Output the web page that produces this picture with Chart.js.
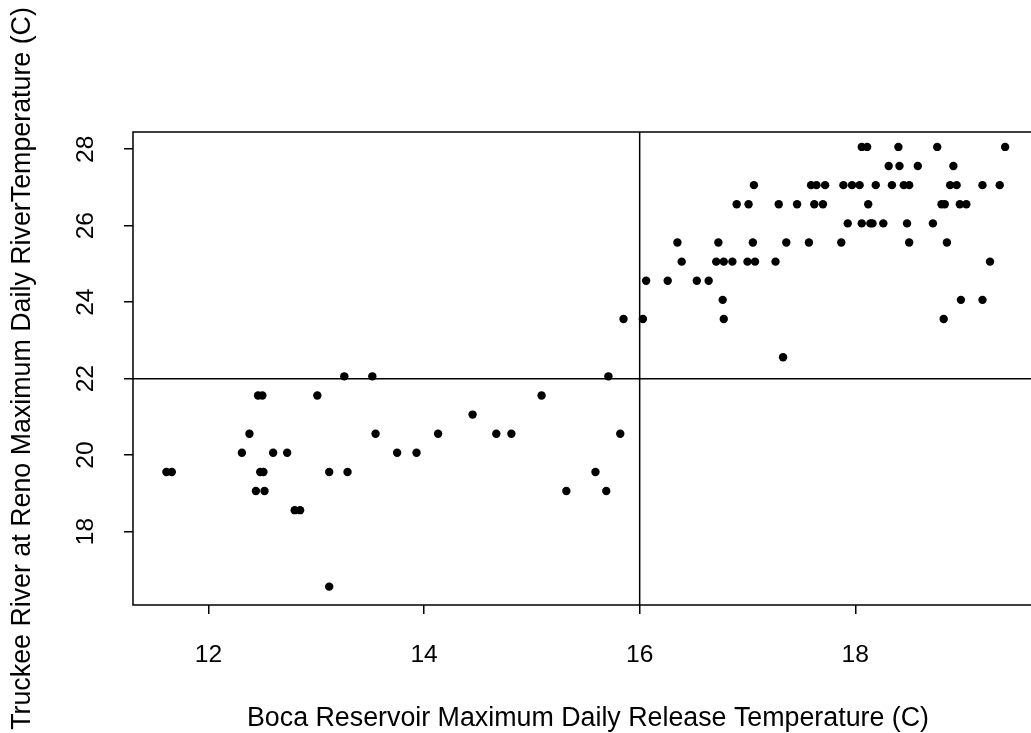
<!DOCTYPE html>
<html>
    <head>
        <meta charset="UTF-8"/>
        <title>Boca vs Reno temperature</title>
        <script src="https://cdn.jsdelivr.net/npm/chart.js@4.4.1/dist/chart.umd.min.js"></script>
        <style>
            body { margin: 0; background: #fff; }
        </style>
    </head>
    <body>
        <canvas id="chart" width="1031" height="733"></canvas>
        <script>
            // Boca release temp (x) and Reno river temp (y), paired by index
            const bocaTemp = [
                13.26, 13.52, 12.46, 12.50, 13.01, 12.38, 13.55, 12.31, 12.60, 12.73,
                11.61, 11.66, 12.48, 12.51, 13.12, 13.29, 12.44, 12.52, 12.80, 12.85,
                13.12,
                15.71, 15.09, 14.45, 14.13, 14.67, 14.81, 15.82, 13.75, 13.93, 15.59,
                15.32, 15.69,
                15.85, 16.03, 16.78, 18.82,
                16.77, 18.98, 19.18,
                17.33,
                16.06, 16.26, 16.53, 16.64,
                16.39, 16.71, 16.78, 16.86, 17.00, 17.07, 17.26, 19.25,
                16.35, 16.73, 17.05, 17.36, 17.57, 17.87, 18.50, 18.85,
                17.93, 18.06, 18.14, 18.16, 18.26, 18.48, 18.72,
                16.90, 17.01, 17.29, 17.46, 17.62, 17.70, 18.12, 18.80, 18.83, 18.97, 19.03,
                17.06, 17.59, 17.64, 17.72, 17.89, 17.97, 18.04, 18.19, 18.34, 18.45, 18.50, 18.88, 18.94, 19.18, 19.34,
                18.31, 18.41, 18.58, 18.91,
                18.06, 18.11, 18.40, 18.76, 19.39
            ];
            const renoTemp = [
                22.06, 22.06, 21.56, 21.56, 21.56, 20.56, 20.56, 20.06, 20.06, 20.06,
                19.56, 19.56, 19.56, 19.56, 19.56, 19.56, 19.06, 19.06, 18.56, 18.56,
                16.56,
                22.06, 21.56, 21.06, 20.56, 20.56, 20.56, 20.56, 20.06, 20.06, 19.56,
                19.06, 19.06,
                23.56, 23.56, 23.56, 23.56,
                24.06, 24.06, 24.06,
                22.56,
                24.56, 24.56, 24.56, 24.56,
                25.06, 25.06, 25.06, 25.06, 25.06, 25.06, 25.06, 25.06,
                25.56, 25.56, 25.56, 25.56, 25.56, 25.56, 25.56, 25.56,
                26.06, 26.06, 26.06, 26.06, 26.06, 26.06, 26.06,
                26.56, 26.56, 26.56, 26.56, 26.56, 26.56, 26.56, 26.56, 26.56, 26.56, 26.56,
                27.06, 27.06, 27.06, 27.06, 27.06, 27.06, 27.06, 27.06, 27.06, 27.06, 27.06, 27.06, 27.06, 27.06, 27.06,
                27.56, 27.56, 27.56, 27.56,
                28.06, 28.06, 28.06, 28.06, 28.06
            ];
            const xTicks = [12, 14, 16, 18];
            const yTicks = [18, 20, 22, 24, 26, 28];
            const xCut = 16;   // vertical reference line
            const yCut = 22;   // horizontal reference line
            const xRange = [11.30, 19.63];
            const yRange = [16.08, 28.45];
            const xTitle = 'Boca Reservoir Maximum Daily Release Temperature (C)';
            const yTitle = 'Truckee River at Reno Maximum Daily RiverTemperature (C)';

            const points = bocaTemp.map((x, i) => ({x: x, y: renoTemp[i]}));
            const fontFam = '"Liberation Sans", Arial, sans-serif';

            // R style: box (runs off the right edge), rotated y tick labels, x title
            const rLook = {
                id: 'rLook',
                afterDraw(chart) {
                    const ctx = chart.ctx;
                    const a = chart.chartArea;
                    ctx.save();
                    ctx.strokeStyle = '#000';
                    ctx.lineWidth = 1.5;
                    ctx.beginPath();
                    ctx.moveTo(a.right + 2, a.top);
                    ctx.lineTo(a.left, a.top);
                    ctx.lineTo(a.left, a.bottom);
                    ctx.lineTo(a.right + 2, a.bottom);
                    ctx.stroke();

                    const ys = chart.scales.y;
                    ctx.fillStyle = '#000';
                    ctx.font = '24.6px ' + fontFam;
                    ctx.textAlign = 'center';
                    ctx.textBaseline = 'middle';
                    ys.ticks.forEach(t => {
                        ctx.save();
                        ctx.translate(86, ys.getPixelForValue(t.value));
                        ctx.rotate(-Math.PI / 2);
                        ctx.fillText(String(t.value), 0, 0);
                        ctx.restore();
                    });

                    ctx.font = '26.8px ' + fontFam;
                    ctx.fillText(xTitle, 588, 718.5);
                    ctx.restore();
                }
            };

            new Chart(document.getElementById('chart').getContext('2d'), {
                type: 'scatter',
                data: {
                    datasets: [
                        {
                            type: 'line',
                            data: [{x: xCut, y: yRange[0]}, {x: xCut, y: yRange[1]}],
                            borderColor: '#000',
                            borderWidth: 1.5,
                            pointRadius: 0
                        },
                        {
                            type: 'line',
                            data: [{x: xRange[0], y: yCut}, {x: xRange[1], y: yCut}],
                            borderColor: '#000',
                            borderWidth: 1.5,
                            pointRadius: 0
                        },
                        {
                            data: points,
                            backgroundColor: '#000',
                            borderWidth: 0,
                            pointRadius: 4.2
                        }
                    ]
                },
                options: {
                    responsive: false,
                    animation: false,
                    layout: { autoPadding: false, padding: { top: 132, left: 0, right: 0, bottom: 0 } },
                    plugins: { legend: { display: false }, tooltip: { enabled: false } },
                    scales: {
                        x: {
                            type: 'linear',
                            min: xRange[0],
                            max: xRange[1],
                            afterFit: s => { s.height = 128; },
                            afterBuildTicks: s => { s.ticks = xTicks.map(v => ({value: v})); },
                            grid: { drawOnChartArea: false, drawTicks: true, tickLength: 9, color: '#000', lineWidth: 1.5 },
                            border: { display: false },
                            ticks: {
                                padding: 26,
                                color: '#000',
                                font: { family: fontFam, size: 24.6 }
                            },
                            title: { display: false }
                        },
                        y: {
                            type: 'linear',
                            min: yRange[0],
                            max: yRange[1],
                            afterFit: s => { s.width = 133; },
                            afterBuildTicks: s => { s.ticks = yTicks.map(v => ({value: v})); },
                            grid: { drawOnChartArea: false, drawTicks: true, tickLength: 9, color: '#000', lineWidth: 1.5 },
                            border: { display: false },
                            ticks: {
                                color: 'rgba(0,0,0,0)',
                                font: { family: fontFam, size: 24.6 }
                            },
                            title: {
                                display: true,
                                text: yTitle,
                                color: '#000',
                                font: { family: fontFam, size: 26.8 },
                                padding: { top: 7, bottom: 0 }
                            }
                        }
                    }
                },
                plugins: [rLook]
            });
        </script>
    </body>
</html>
